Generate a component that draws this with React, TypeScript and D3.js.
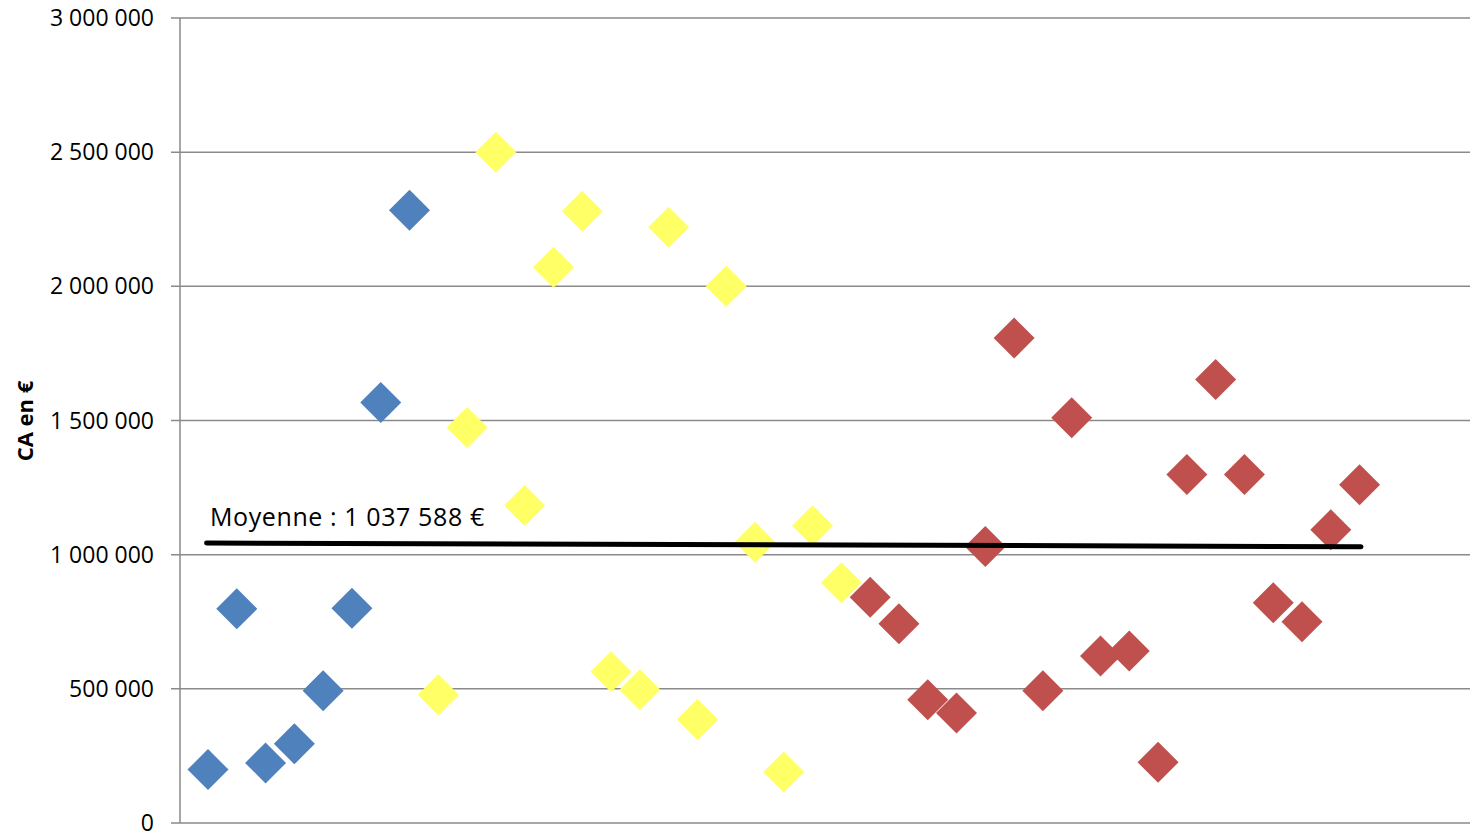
import React from "react";
import * as d3 from "d3";

const blueValues = [199000, 798000, 224000, 295000, 493000, 800000, 1567000, 2284000];
const yellowValues = [478000, 1474000, 2500000, 1183000, 2071000, 2280000, 564000, 497000, 2220000, 386000, 2000000, 1046000, 190000, 1108000, 895000];
const redValues = [841000, 743000, 459000, 410000, 1030000, 1807000, 493000, 1510000, 622000, 641000, 226000, 1299000, 1653000, 1299000, 821000, 750000, 1093000, 1261000];
const yTicks = [0, 500000, 1000000, 1500000, 2000000, 2500000, 3000000];
const meanLabel = "Moyenne : 1 037 588 €";
const meanLine = [
  { x: 0.95, y: 1043500 },
  { x: 41.05, y: 1029800 },
];
const yTitle = "CA en €";

const seriesList = [
  { name: "blue", color: "#4F81BD", values: blueValues },
  { name: "yellow", color: "#FFFF66", values: yellowValues },
  { name: "red", color: "#C0504D", values: redValues },
];

const W = 1470;
const H = 835;
const left = 179.2;
const top = 18;
const bottom = 823;
const step = 28.79;

export default function App() {
  const x = d3.scaleLinear().domain([0, 45]).range([left, left + 45 * step]);
  const y = d3.scaleLinear().domain([0, 3000000]).range([bottom, top]);
  const fmt = (v: number) => d3.format(",")(v).replace(/,/g, " ");

  let idx = 0;
  const points: { x: number; y: number; color: string }[] = [];
  seriesList.forEach((s) => {
    s.values.forEach((v) => {
      idx += 1;
      points.push({ x: idx, y: v, color: s.color });
    });
  });

  const r = 20.5;
  const diamond = (cx: number, cy: number) =>
    `M${cx},${cy - r}L${cx + r},${cy}L${cx},${cy + r}L${cx - r},${cy}Z`;

  const line = d3
    .line<{ x: number; y: number }>()
    .x((d) => x(d.x))
    .y((d) => y(d.y));

  return (
    <svg
      width={W}
      height={H}
      style={{ position: "absolute", left: 0, top: 0, background: "#fff" }}
      fontFamily="'Open Sans', sans-serif"
    >
      {yTicks.map((t) => (
        <g key={t}>
          <line x1={171} x2={W} y1={y(t)} y2={y(t)} stroke="#8a8a8a" strokeWidth={1.5} />
          <text
            x={154}
            y={y(t)}
            dy="0.35em"
            textAnchor="end"
            fontSize={23}
            fill="#000"
          >
            {fmt(t)}
          </text>
        </g>
      ))}
      <line x1={left + 0.8} x2={left + 0.8} y1={top} y2={bottom} stroke="#8a8a8a" strokeWidth={1.5} />
      <text
        transform={`translate(33,421) rotate(-90)`}
        textAnchor="middle"
        fontSize={22}
        fontWeight="bold"
        fill="#000"
      >
        {yTitle}
      </text>
      {points.map((p, i) => (
        <path key={i} d={diamond(x(p.x), y(p.y))} fill={p.color} />
      ))}
      <path
        d={line(meanLine) || ""}
        stroke="#000"
        strokeWidth={5}
        strokeLinecap="round"
        fill="none"
      />
      <text x={210} y={526} fontSize={25} letterSpacing={0.6} fill="#000">
        {meanLabel}
      </text>
    </svg>
  );
}
